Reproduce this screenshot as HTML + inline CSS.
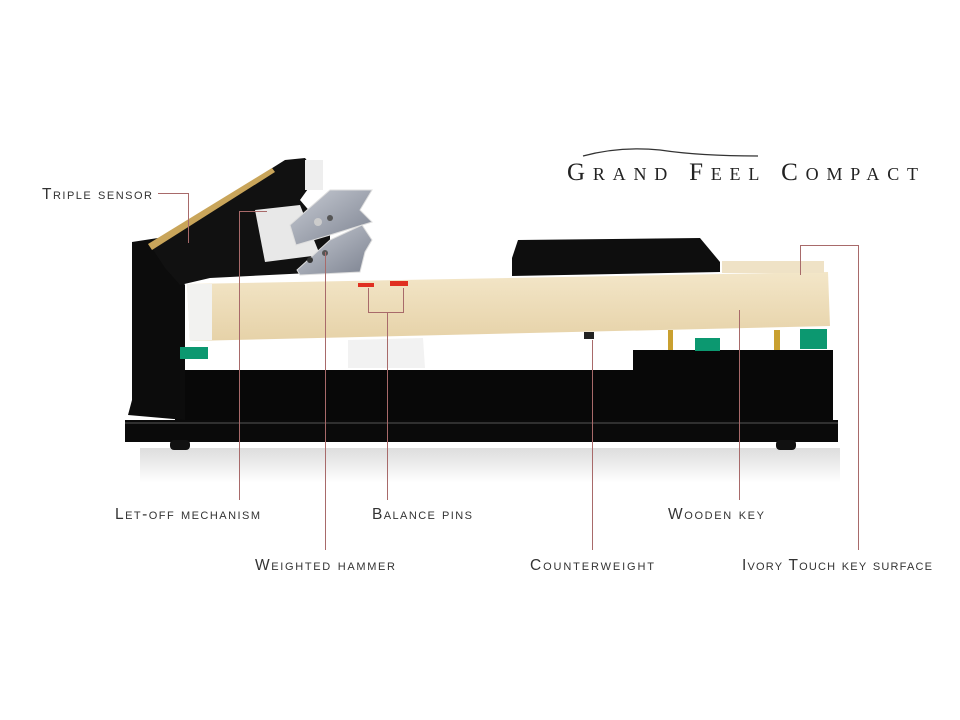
<!DOCTYPE html>
<html><head><meta charset="utf-8"><style>
html,body{margin:0;padding:0;background:#fff;width:960px;height:720px;overflow:hidden}
svg{display:block}
.l{font-family:"Liberation Sans",sans-serif;font-size:15.5px;fill:#333;font-variant:small-caps}
.t{font-family:"Liberation Serif",serif;font-size:25px;fill:#222;font-variant:small-caps}
</style></head><body>
<svg width="960" height="720" viewBox="0 0 960 720" xmlns="http://www.w3.org/2000/svg">
<defs>
<linearGradient id="wood" x1="0" y1="0" x2="0" y2="1"><stop offset="0" stop-color="#f3e6c8"/><stop offset="1" stop-color="#e6d2a8"/></linearGradient>
<linearGradient id="refl" x1="0" y1="0" x2="0" y2="1"><stop offset="0" stop-color="#ddd"/><stop offset="1" stop-color="#fff"/></linearGradient>
<linearGradient id="silver" x1="0" y1="0" x2="1" y2="1"><stop offset="0" stop-color="#c8ccd4"/><stop offset="1" stop-color="#7c8290"/></linearGradient>
</defs>
<path d="M583 156 Q620 146 660 150 Q700 156 758 156" stroke="#333" stroke-width="1.3" fill="none"/>
<text x="567" y="180" class="t" textLength="351" lengthAdjust="spacing">Grand Feel Compact</text>
<rect x="140" y="448" width="700" height="35" fill="url(#refl)"/>
<rect x="125" y="420" width="713" height="22" fill="#0a0a0a"/>
<line x1="125" y1="423" x2="838" y2="423" stroke="#555" stroke-width="1"/>
<rect x="170" y="440" width="20" height="10" rx="4" fill="#111"/>
<rect x="776" y="440" width="20" height="10" rx="4" fill="#111"/>
<path d="M175 370 L633 370 L633 350 L833 350 L833 420 L175 420 Z" fill="#080808"/>
<path d="M132 242 L158 238 L185 285 L185 420 L128 415 L132 400 Z" fill="#0c0c0c"/>
<path d="M150 245 L285 160 L305 158 L318 175 L300 200 L330 235 L330 272 L210 278 L180 285 L165 268 Z" fill="#111"/>
<path d="M148 244 L272 168 L275 172 L152 250 Z" fill="#c9a55a"/>
<path d="M255 210 L300 205 L320 255 L265 262 Z" fill="#e8e8e8"/>
<rect x="305" y="160" width="18" height="30" fill="#eee"/>
<path d="M290 225 L330 190 L372 190 L360 210 L372 222 L330 235 L296 245 Z" fill="url(#silver)" stroke="#ddd"/>
<path d="M297 270 L330 240 L362 225 L372 240 L365 252 L360 272 L300 275 Z" fill="url(#silver)" stroke="#ddd"/>
<circle cx="318" cy="222" r="4" fill="#ccc"/><circle cx="330" cy="218" r="3" fill="#555"/>
<circle cx="325" cy="253" r="3" fill="#555"/><circle cx="310" cy="260" r="3" fill="#333"/>
<path d="M187 284 L828 272 L830 326 L190 341 Z" fill="url(#wood)"/>
<path d="M187 284 L212 284 L212 340 L190 341 Z" fill="#f2f2f0"/>
<rect x="722" y="261" width="102" height="12" fill="#efe2c6"/>
<path d="M512 258 L518 240 L700 238 L720 262 L720 272 L512 276 Z" fill="#0e0e0e"/>
<rect x="358" y="283" width="16" height="4" fill="#e03020"/>
<rect x="390" y="281" width="18" height="5" fill="#e03020"/>
<path d="M348 340 L423 338 L425 368 L348 368 Z" fill="#f2f2f2"/>
<rect x="180" y="347" width="28" height="12" fill="#0c9870"/>
<rect x="695" y="338" width="25" height="13" fill="#0c9870"/>
<rect x="800" y="329" width="27" height="20" fill="#0c9870"/>
<rect x="668" y="330" width="5" height="20" fill="#c9a030"/>
<rect x="774" y="330" width="6" height="20" fill="#c9a030"/>
<rect x="584" y="332" width="10" height="7" fill="#222"/>
<g stroke="#a86a6a" stroke-width="1" fill="none">
<path d="M158 193.5 H188.5 V243"/>
<path d="M239.5 500 V211.5 H267"/>
<path d="M325.5 550 V252"/>
<path d="M387.5 500 V312.5 M368.5 288 V312.5 H403.5 V288"/>
<path d="M592.5 550 V340"/>
<path d="M739.5 500 V310"/>
<path d="M858.5 550 V245.5 H800.5 V275"/>
</g>
<text x="42" y="199" class="l" textLength="110" lengthAdjust="spacing">Triple sensor</text>
<text x="115" y="519" class="l" textLength="145" lengthAdjust="spacing">Let-off mechanism</text>
<text x="255" y="570" class="l" textLength="140" lengthAdjust="spacing">Weighted hammer</text>
<text x="372" y="519" class="l" textLength="100" lengthAdjust="spacing">Balance pins</text>
<text x="530" y="570" class="l" textLength="124" lengthAdjust="spacing">Counterweight</text>
<text x="668" y="519" class="l" textLength="96" lengthAdjust="spacing">Wooden key</text>
<text x="742" y="570" class="l" textLength="190" lengthAdjust="spacing">Ivory Touch key surface</text>
</svg>
</body></html>
